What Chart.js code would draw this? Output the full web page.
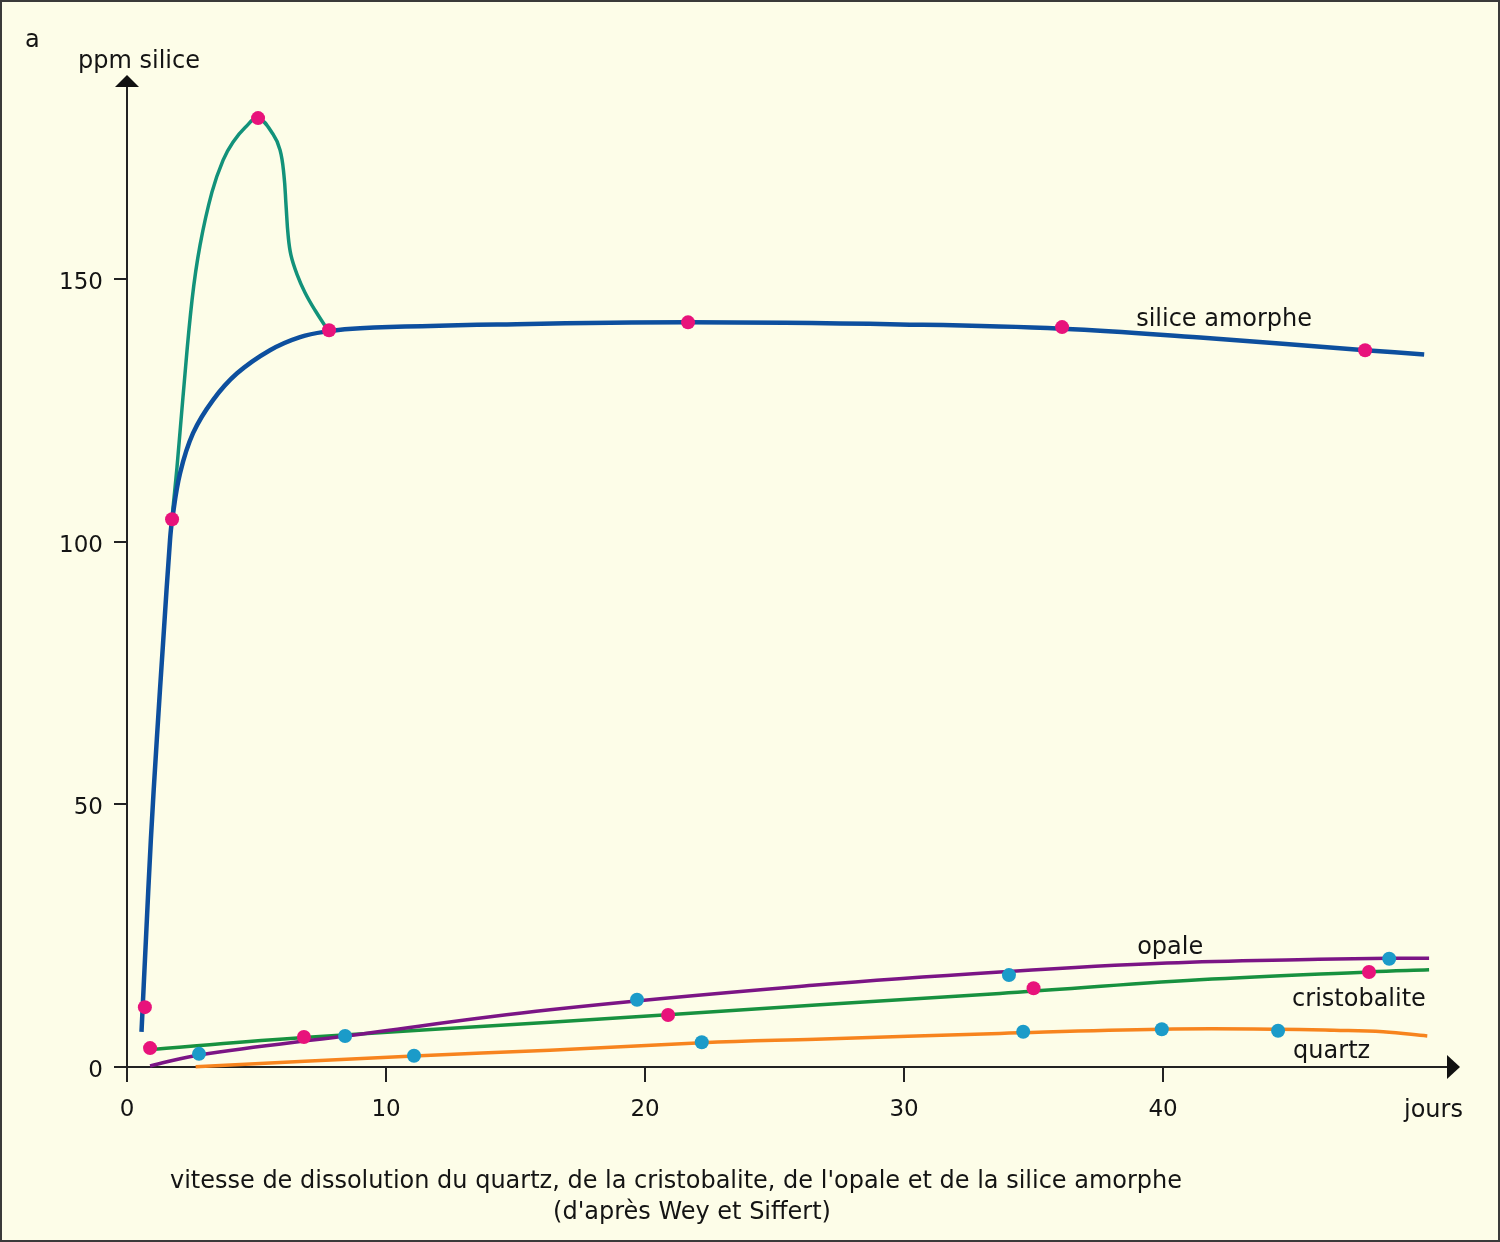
<!DOCTYPE html>
<html>
<head>
<meta charset="utf-8">
<script src="https://cdn.jsdelivr.net/npm/chart.js@4.4.0/dist/chart.umd.min.js"></script>
<style>
html,body{margin:0;padding:0;background:#fdfde8;}
canvas{display:block;}
</style>
</head>
<body>
<canvas id="c" width="1500" height="1242"></canvas>
<script>
// ---- data ----
const xTicks = [0, 10, 20, 30, 40];
const yTicks = [0, 50, 100, 150];

// silice amorphe curve
const siliceX = [0.56, 0.73, 0.92, 1.15, 1.40, 1.66, 1.74, 2.05, 2.55, 3.32, 4.25, 5.52, 6.68, 7.76, 9.0, 14.4, 21.66, 29.85, 36.1, 41.43, 47.8, 50.08];
const siliceY = [6.7, 24.2, 43.2, 62.3, 81.3, 100.3, 104.1, 113.1, 120.7, 127.0, 132.1, 136.5, 139.0, 140.1, 140.7, 141.4, 141.8, 141.4, 140.6, 138.9, 136.5, 135.7];

// transient peak curve (teal)
const peakX = [1.74, 1.93, 2.16, 2.51, 2.82, 3.28, 3.71, 4.09, 4.56, 5.06, 5.64, 5.91, 6.06, 6.14, 6.22, 6.33, 6.56, 6.87, 7.26, 7.76];
const peakY = [104.7, 114.2, 127.5, 146.0, 156.5, 166.6, 172.7, 176.1, 178.9, 180.7, 177.6, 174.6, 169.8, 164.1, 158.4, 154.6, 151.0, 147.5, 144.1, 140.3];

// opale
const opaleX = [0.89, 2.78, 8.42, 16.33, 26.6, 34.05, 40.15, 46.0, 48.73, 50.27];
const opaleY = [0.2, 2.3, 5.9, 10.9, 15.6, 18.2, 19.8, 20.5, 20.7, 20.7];

// cristobalite
const cristoX = [1.08, 6.83, 16.33, 26.6, 33.7, 41.4, 47.95, 50.27];
const cristoY = [3.4, 5.6, 8.5, 11.8, 14.0, 16.6, 18.1, 18.5];

// quartz
const quartzX = [2.65, 11.08, 16.33, 22.19, 26.6, 33.7, 39.95, 44.44, 46.6, 48.5, 50.2];
const quartzY = [0.05, 2.1, 3.2, 4.6, 5.3, 6.4, 7.2, 7.2, 7.0, 6.7, 5.9];

// measured points
const siliceMarkX = [0.69, 1.74, 5.06, 7.80, 21.66, 36.1, 47.8];
const siliceMarkY = [11.4, 104.3, 180.7, 140.3, 141.8, 140.9, 136.5];
const cristoMarkX = [0.89, 6.83, 20.89, 35.0, 47.95];
const cristoMarkY = [3.6, 5.7, 9.9, 15.0, 18.1];
const opaleMarkX = [2.78, 8.42, 19.69, 34.05, 48.73];
const opaleMarkY = [2.5, 5.9, 12.8, 17.5, 20.6];
const quartzMarkX = [11.08, 22.19, 34.6, 39.95, 44.44];
const quartzMarkY = [2.15, 4.7, 6.7, 7.2, 6.9];

const seriesNames = ['silice amorphe', 'opale', 'cristobalite', 'quartz'];

// ---- helpers ----
const pts = (xs, ys) => xs.map((x, i) => ({x: x, y: ys[i]}));
const FONT = 'DejaVu Sans';
const INK = '#141414';
const BG = '#fdfde8';

function lineDs(xs, ys, color, width) {
  return {
    type: 'line', data: pts(xs, ys), borderColor: color, borderWidth: width,
    pointRadius: 0, fill: false, tension: 0.4, cubicInterpolationMode: 'default',
    clip: false, order: 2, borderCapStyle: 'butt', borderJoinStyle: 'round'
  };
}
function markDs(xs, ys, color) {
  return {
    type: 'scatter', data: pts(xs, ys), backgroundColor: color, borderColor: color,
    borderWidth: 0, pointRadius: 7, pointHoverRadius: 7, showLine: false,
    clip: false, order: 0
  };
}

const decor = {
  id: 'decor',
  beforeDraw(chart) {
    const c = chart.ctx;
    c.save();
    c.fillStyle = BG;
    c.fillRect(0, 0, chart.width, chart.height);
    c.restore();
  },
  afterDraw(chart) {
    const c = chart.ctx;
    const xs = chart.scales.x, ys = chart.scales.y;
    const a = chart.chartArea;
    c.save();
    // arrows
    c.fillStyle = '#111';
    c.beginPath();
    c.moveTo(a.left - 12, a.top + 2);
    c.lineTo(a.left + 12, a.top + 2);
    c.lineTo(a.left, a.top - 10);
    c.closePath();
    c.fill();
    const y0 = ys.getPixelForValue(0);
    c.beginPath();
    c.moveTo(a.right - 1, y0 - 12);
    c.lineTo(a.right - 1, y0 + 12);
    c.lineTo(a.right + 12, y0);
    c.closePath();
    c.fill();

    c.fillStyle = INK;
    c.font = '24px "' + FONT + '"';
    c.textBaseline = 'alphabetic';
    c.textAlign = 'left';
    // series labels anchored to data space
    c.fillText(seriesNames[0], xs.getPixelForValue(38.96), ys.getPixelForValue(141.06));
    c.fillText(seriesNames[1], xs.getPixelForValue(39.0), ys.getPixelForValue(21.5));
    c.fillText(seriesNames[2], xs.getPixelForValue(44.98), ys.getPixelForValue(11.57));
    c.fillText(seriesNames[3], xs.getPixelForValue(45.02), ys.getPixelForValue(1.71));
    // axis titles
    c.fillText('jours', xs.getPixelForValue(49.3), 1117);
    c.fillText('ppm silice', a.left - 49, 68);
    c.fillText('a', 25, 47);
    // caption
    c.textAlign = 'center';
    c.fillText("vitesse de dissolution du quartz, de la cristobalite, de l'opale et de la silice amorphe", 676, 1188);
    c.fillText("(d'après Wey et Siffert)", 692, 1219);
    // frame
    c.strokeStyle = '#3a3a3a';
    c.lineWidth = 2;
    c.strokeRect(1, 1, chart.width - 2, chart.height - 2);
    c.restore();
  }
};

new Chart(document.getElementById('c'), {
  data: {
    datasets: [
      markDs(siliceMarkX, siliceMarkY, '#e8137b'),
      markDs(cristoMarkX, cristoMarkY, '#e8137b'),
      markDs(opaleMarkX, opaleMarkY, '#1b9bc9'),
      markDs(quartzMarkX, quartzMarkY, '#1b9bc9'),
      lineDs(siliceX, siliceY, '#0d4f9e', 4.5),
      lineDs(peakX, peakY, '#12927a', 3.5),
      lineDs(opaleX, opaleY, '#7b1585', 3.5),
      lineDs(cristoX, cristoY, '#17913f', 3.5),
      lineDs(quartzX, quartzY, '#f7841e', 3.5)
    ]
  },
  options: {
    responsive: false,
    animation: false,
    events: [],
    layout: {padding: {left: 0, top: 85, right: 52, bottom: 0}},
    plugins: {legend: {display: false}, tooltip: {enabled: false}, title: {display: false}},
    scales: {
      x: {
        type: 'linear', min: 0, max: 51,
        afterBuildTicks: s => { s.ticks = xTicks.map(v => ({value: v})); },
        afterFit: s => { s.height = 175; },
        grid: {drawOnChartArea: false, drawTicks: true, tickLength: 15, color: '#222', lineWidth: 2},
        border: {display: true, color: '#222', width: 2},
        ticks: {font: {family: FONT, size: 23}, color: INK, padding: 14, maxRotation: 0, autoSkip: false}
      },
      y: {
        type: 'linear', min: 0, max: 187,
        afterBuildTicks: s => { s.ticks = yTicks.map(v => ({value: v})); },
        afterFit: s => { s.width = 127; },
        grid: {drawOnChartArea: false, drawTicks: true, tickLength: 13, color: '#222', lineWidth: 2},
        border: {display: true, color: '#222', width: 2},
        ticks: {font: {family: FONT, size: 23}, color: INK, padding: 11, labelOffset: 4, autoSkip: false}
      }
    }
  },
  plugins: [decor]
});
</script>
</body>
</html>
